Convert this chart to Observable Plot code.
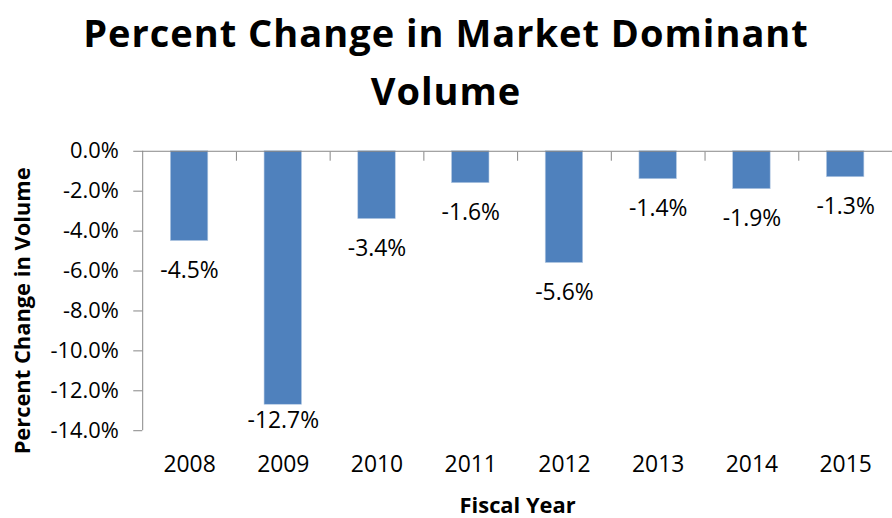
<!DOCTYPE html>
<html>
<head>
<meta charset="utf-8">
<script src="https://cdn.jsdelivr.net/npm/d3@7"></script>
<script src="https://cdn.jsdelivr.net/npm/@observablehq/plot@0.6"></script>
<style>
  html, body { margin: 0; padding: 0; background: #fff; overflow: hidden; width: 892px; height: 518px; }
  #title { font-family: "Open Sans", sans-serif; font-weight: 700; font-size: 38px; letter-spacing: 1px; line-height: 58px; text-align: center; color: #000; padding-top: 3px; width: 892px; height: 109px; overflow: visible; }
  #chart svg { display: block; }
</style>
</head>
<body>
<div id="title">Percent Change in Market Dominant<br>Volume</div>
<div id="chart"></div>
<script>
const years = [2008, 2009, 2010, 2011, 2012, 2013, 2014, 2015];
const changes = [-4.5, -12.7, -3.4, -1.6, -5.6, -1.4, -1.9, -1.3];
const yTicks = [0, -2, -4, -6, -8, -10, -12, -14];
const yTitle = "Percent Change in Volume";
const xTitle = "Fiscal Year";

const data = years.map((year, i) => ({year, value: changes[i]}));
const separators = years.map(y => y + 0.5);
const fmt = v => v.toFixed(1) + "%";
const font = "Open Sans, sans-serif";

const chart = Plot.plot({
  width: 897,
  height: 406,
  marginTop: 39,
  marginBottom: 86,
  marginLeft: 143,
  marginRight: 0,
  style: { fontFamily: font, color: "#000", background: "#fff", overflow: "visible" },
  x: { domain: [2007.5, 2015.5] },
  y: { domain: [-14, 0] },
  marks: [
    Plot.rectY(data, {
      x1: d => d.year - 0.2, x2: d => d.year + 0.2, y1: 0, y2: "value",
      fill: "#4F81BD", stroke: "#B9CDE5", strokeWidth: 0.6
    }),
    Plot.ruleY([0], { stroke: "#868686", strokeWidth: 1 }),
    Plot.ruleX([2007.5], { stroke: "#868686", strokeWidth: 1 }),
    Plot.axisX({
      anchor: "top", ticks: separators, tickSize: -9, tickFormat: () => "",
      stroke: "#868686", label: null
    }),
    Plot.axisY({
      ticks: yTicks, tickSize: 9, tickPadding: 15, tickFormat: fmt,
      fontSize: 22, stroke: "#868686", label: null
    }),
    Plot.axisX({
      anchor: "bottom", ticks: years, tickSize: 0, tickPadding: 25,
      tickFormat: d => String(d), fontSize: 23, label: null
    }),
    Plot.text([yTitle], {
      frameAnchor: "left", textAnchor: "middle", rotate: -90, dx: -120, dy: 20,
      fontSize: 22, fontWeight: 700, fill: "#000"
    }),
    Plot.text([xTitle], {
      frameAnchor: "bottom", dy: 83, fontSize: 22, fontWeight: 700, fill: "#000"
    }),
    Plot.text(data.filter(d => d.value > -12), {
      x: "year", y: "value", text: d => fmt(d.value), dy: 30, fontSize: 23, fill: "#000"
    }),
    Plot.text(data.filter(d => d.value <= -12), {
      x: "year", y: "value", text: d => fmt(d.value), dy: 16, fontSize: 23, fill: "#000"
    })
  ]
});

document.getElementById("chart").append(chart);
</script>
</body>
</html>
